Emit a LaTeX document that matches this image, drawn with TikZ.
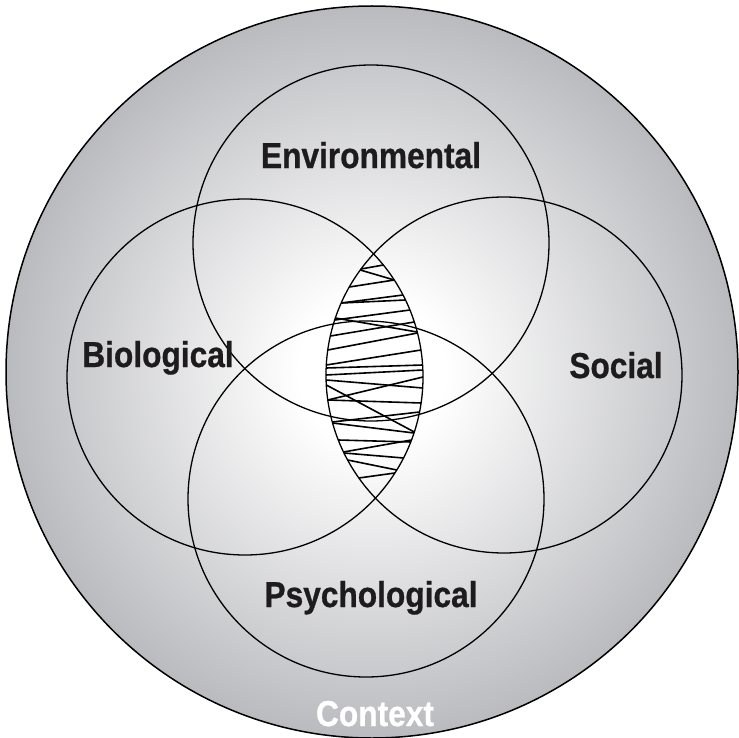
\documentclass[tikz,border=0pt]{standalone}
\usepackage{graphicx}
\usepackage{fontspec}
\setmainfont{Liberation Sans}[BoldFeatures={FakeBold=0.8}]
\usetikzlibrary{calc}

\definecolor{ctxgray}{RGB}{162,163,168}
\definecolor{ink}{RGB}{30,27,28}

% soft white glow fading to grey towards the rim of the context disc
\pgfdeclareradialshading{contextglow}{\pgfpoint{0bp}{0bp}}{%
  color(0bp)=(white); color(5bp)=(white); color(32bp)=(ctxgray); color(50bp)=(ctxgray)}

\begin{document}
\begin{tikzpicture}[x=1pt,y=-1pt,
    venn/.style={draw=black, line width=1.3pt},
    rim/.style={draw=black, line width=1.5pt},
    hatchline/.style={draw=black, line width=1.6pt},
    lbl/.style={anchor=base, text=ink, inner sep=0pt,
                font=\fontsize{36}{40}\selectfont\bfseries}]
  \useasboundingbox (0,0) rectangle (738,738);

  % centres
  \coordinate (ctr) at (372,372);
  \coordinate (Ec) at (371,243);
  \coordinate (Bc) at (245,377);
  \coordinate (Sc) at (504,375);
  \coordinate (Pc) at (366,499);

  % context disc
  \fill[shading=contextglow] (ctr) circle[radius=366];
  \draw[rim] (ctr) circle[radius=366];

  % cross-hatching of the central lens (left edge on Social, right edge on Biological)
  \foreach \l/\r in {269/265, 270/280, 287/280, 303/295, 303/300, 320/310,
                     318/332, 336/322, 350/333, 365/350, 368/365, 375/370,
                     380/388, 400/377, 400/403, 385/432, 422/412, 423/433,
                     440/442, 452/440, 453/458, 460/470, 478/473}
    \draw[hatchline]
      ($(Sc)+({180-asin((\l-375)/178)}:178)$) --
      ($(Bc)+({asin((\r-377)/178)}:178)$);

  % the four overlapping domains
  \draw[venn] (Ec) circle[radius=178];
  \draw[venn] (Bc) circle[radius=178];
  \draw[venn] (Sc) circle[radius=178];
  \draw[venn] (Pc) circle[radius=178];

  % labels
  \node[lbl] (env) at (371,168) {\scalebox{0.88}[1]{Environmental}};
  \node[lbl] (bio) at (158,367) {\scalebox{0.88}[1]{Biological}};
  \node[lbl] (soc) at (616,378) {\scalebox{0.88}[1]{Social}};
  \node[lbl] (psy) at (371,607) {\scalebox{0.88}[1]{Psychological}};
  \node[lbl, text=white] (ctx) at (375,726) {\scalebox{0.88}[1]{Context}};
\end{tikzpicture}
\end{document}
